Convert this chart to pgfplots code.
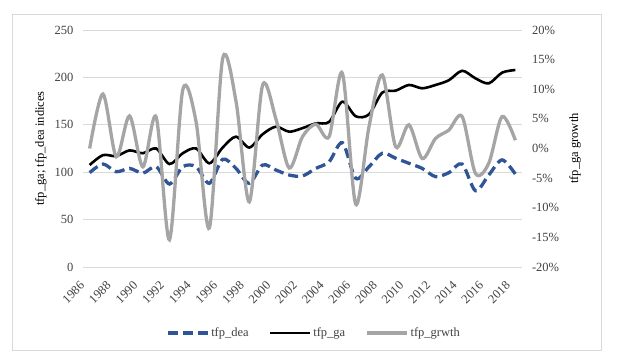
\documentclass[border=0pt]{standalone}
\usepackage{fontspec}
\setmainfont{Liberation Serif}
\usepackage{pgfplots}
\usepackage{pgfplotstable}
\pgfplotsset{compat=1.18}
\definecolor{deablue}{RGB}{47,85,151}
\definecolor{grwgrey}{RGB}{165,165,165}
\definecolor{gridgrey}{RGB}{217,217,217}
\definecolor{txtgrey}{RGB}{64,64,64}

% indices (left axis) and growth in % (right axis)
\pgfplotstableread{
year dea   ga    grwth
1986 99.5  107.6  0.0
1987 108.6 118.0  9.2
1988 100.5 117.0 -1.4
1989 104.0 123.0  5.5
1990 99.0  120.0 -3.1
1991 105.8 125.0  5.3
1992 87.5  108.6 -15.4
1993 105.8 120.0  9.9
1994 105.8 125.0  4.5
1995 88.3  109.4 -13.4
1996 113.6 126.0  15.2
1997 104.0 137.5  8.0
1998 88.3  126.0 -9.0
1999 107.6 140.0  10.7
2000 102.3 148.0  5.0
2001 97.0  142.7 -3.3
2002 96.0  146.5  2.0
2003 104.0 151.5  4.1
2004 111.0 153.0  2.0
2005 131.0 174.4  12.7
2006 93.6  159.0 -9.4
2007 105.8 161.0  3.7
2008 120.0 184.0  12.4
2009 114.7 186.0  0.3
2010 109.4 192.0  4.0
2011 104.0 188.5 -1.7
2012 95.3  192.0  1.7
2013 99.5  197.0  3.1
2014 108.6 207.0  5.4
2015 80.5  199.0 -4.2
2016 97.0  193.7 -2.5
2017 113.0 205.0  5.4
2018 98.0  207.8  1.4
}\tfpdata

\pgfplotsset{
  tfpbase/.style={
    at={(83pt,96pt)}, anchor=south west,
    scale only axis, width=439pt, height=237pt,
    xmin=1985.5, xmax=2018.5,
    axis line style={draw=none},
    major tick length=0pt,
    /pgf/number format/1000 sep={},
    /pgf/number format/assume math mode=true,
    tick label style={text=txtgrey},
    label style={text=txtgrey},
  },
  legend image code/.code={\draw[#1] (0pt,0pt) -- (40pt,0pt);},
}

\begin{document}
\begin{tikzpicture}[font=\fontsize{12.5}{15}\selectfont]
\path (0pt,0pt) rectangle (620pt,363pt);
\draw[gridgrey, line width=0.9pt] (12.7pt,13pt) rectangle (601.7pt,349pt);

\begin{axis}[tfpbase,
  ymin=0, ymax=250, ytick={0,50,...,250},
  ymajorgrids, grid style={gridgrey, line width=0.9pt},
  xtick={1986,1988,...,2018},
  x tick label style={yshift=-14pt, xshift=-5pt, rotate=45, anchor=east},
  yticklabel style={xshift=-6pt},
  ylabel={tfp\_ga; tfp\_dea indices},
  every axis y label/.style={at={(axis description cs:-0.096,0.5)}, anchor=center, rotate=90},
]
\addplot[deablue, line width=3.3pt, dash pattern=on 10pt off 5pt, smooth]
  table[x=year,y=dea]{\tfpdata};
\addplot[black, line width=2.6pt, smooth]
  table[x=year,y=ga]{\tfpdata};
\end{axis}

\begin{axis}[tfpbase,
  axis y line*=right, axis x line=none, xtick=\empty,
  ymin=-20, ymax=20, ytick={-20,-15,...,20},
  yticklabel={\pgfmathprintnumber{\tick}\%},
  yticklabel style={xshift=6.5pt},
  ylabel={tfp\_ga growth},
  every axis y label/.style={at={(axis description cs:1.121,0.5)}, anchor=center, rotate=90},
  legend style={at={(axis description cs:0.526,-0.279)}, anchor=center,
    draw=none, fill=none, legend columns=3, text=txtgrey,
    /tikz/every even column/.append style={column sep=18pt}},
]
\addlegendimage{deablue, line width=3.3pt, dash pattern=on 10pt off 5pt}
\addlegendentry{tfp\_dea}
\addlegendimage{black, line width=2.6pt}
\addlegendentry{tfp\_ga}
\addplot[grwgrey, line width=3.3pt, smooth]
  table[x=year,y=grwth]{\tfpdata};
\addlegendentry{tfp\_grwth}
\end{axis}
\end{tikzpicture}
\end{document}
